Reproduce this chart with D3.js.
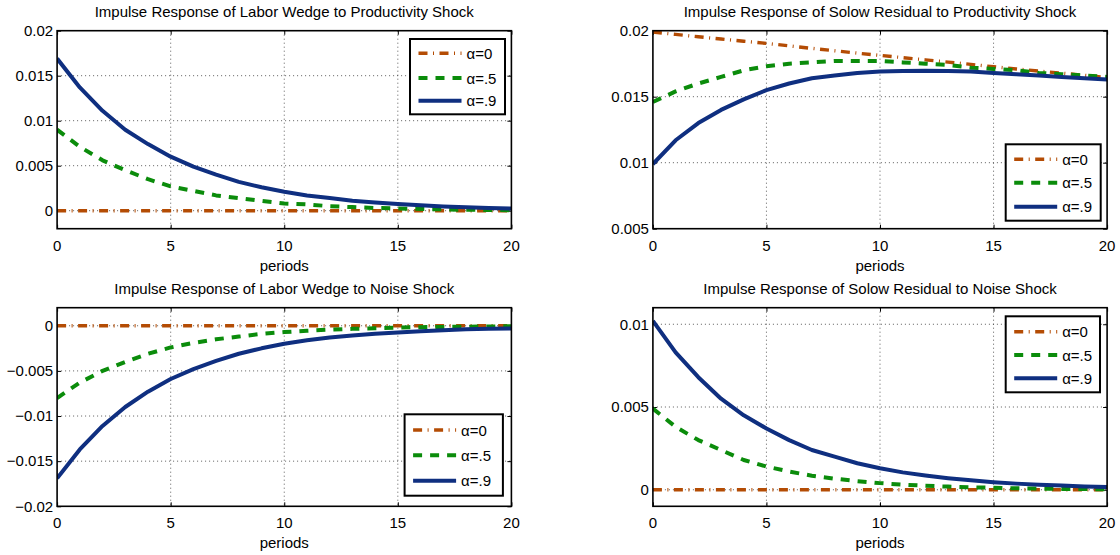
<!DOCTYPE html>
<html><head><meta charset="utf-8">
<script src="https://cdn.jsdelivr.net/npm/d3@7"></script>
<style>body{margin:0;background:#fff}svg{display:block}text{font-family:"Liberation Sans",Arial,sans-serif;fill:#000}</style>
</head><body><svg id="c" width="1120" height="555"></svg>
<script>
// ---- data ----
const periods = d3.range(0, 21);
const seriesNames = ["α=0", "α=.5", "α=.9"];
const titles = [
  "Impulse Response of Labor Wedge to Productivity Shock",
  "Impulse Response of Solow Residual to Productivity Shock",
  "Impulse Response of Labor Wedge to Noise Shock",
  "Impulse Response of Solow Residual to Noise Shock"
];
const xTicks = [0, 5, 10, 15, 20];
const yTicks1 = [0, 0.005, 0.01, 0.015, 0.02];
const yTicks2 = [0.005, 0.01, 0.015, 0.02];
const yTicks3 = [-0.02, -0.015, -0.01, -0.005, 0];
const yTicks4 = [0, 0.005, 0.01];
const yLabels1 = ["0", "0.005", "0.01", "0.015", "0.02"];
const yLabels2 = ["0.005", "0.01", "0.015", "0.02"];
const yLabels3 = ["\u22120.02", "\u22120.015", "\u22120.01", "\u22120.005", "0"];
const yLabels4 = ["0", "0.005", "0.01"];

// Panel 1: labor wedge, productivity shock
const lw_prod_a0 = [0,0,0,0,0,0,0,0,0,0,0,0,0,0,0,0,0,0,0,0,0];
const lw_prod_a5 = [0.009,0.0071,0.0056,0.0045,0.0035,0.0027,0.0022,0.0017,0.0014,0.0011,0.0008,0.0007,0.0005,0.0004,0.0003,0.00025,0.0002,0.00015,0.0001,0.00008,0.00006];
const lw_prod_a9 = [0.0169,0.0137,0.0111,0.0090,0.0074,0.0060,0.0049,0.0040,0.0032,0.0026,0.0021,0.0017,0.0014,0.0011,0.0009,0.00074,0.0006,0.00048,0.00039,0.0003,0.00024];
// Panel 2: Solow residual, productivity shock
const sr_prod_a0 = [0.0199,0.01972,0.01954,0.01937,0.0192,0.01904,0.01885,0.01866,0.01848,0.0183,0.01813,0.01796,0.01779,0.01762,0.01745,0.01727,0.0171,0.01694,0.01678,0.01662,0.01646];
const sr_prod_a5 = [0.0146,0.0154,0.0160,0.0165,0.0170,0.0173,0.0175,0.0176,0.0177,0.0177,0.0177,0.0176,0.0175,0.0174,0.0172,0.0171,0.0170,0.0168,0.0167,0.0166,0.0165];
const sr_prod_a9 = [0.0099,0.0117,0.0130,0.0140,0.0148,0.0155,0.0160,0.0164,0.0166,0.0168,0.0169,0.01695,0.01697,0.01695,0.0169,0.0168,0.0167,0.0166,0.0165,0.0164,0.0163];
// Panel 3: labor wedge, noise shock
const lw_noise_a0 = [0,0,0,0,0,0,0,0,0,0,0,0,0,0,0,0,0,0,0,0,0];
const lw_noise_a5 = [-0.008,-0.0063,-0.005,-0.004,-0.0031,-0.0024,-0.0019,-0.0015,-0.0012,-0.0009,-0.0007,-0.00055,-0.00043,-0.00034,-0.00027,-0.0002,-0.00016,-0.00013,-0.0001,-0.00008,-0.00006];
const lw_noise_a9 = [-0.0169,-0.0137,-0.0111,-0.0090,-0.0073,-0.0059,-0.0048,-0.0039,-0.0031,-0.0025,-0.0020,-0.0016,-0.0013,-0.00108,-0.00088,-0.00074,-0.0006,-0.0005,-0.0004,-0.00034,-0.0003];
// Panel 4: Solow residual, noise shock
const sr_noise_a0 = [0,0,0,0,0,0,0,0,0,0,0,0,0,0,0,0,0,0,0,0,0];
const sr_noise_a5 = [0.0049,0.0038,0.0030,0.0024,0.0018,0.0014,0.0011,0.00085,0.00067,0.00052,0.0004,0.00031,0.00024,0.00019,0.00015,0.00012,0.00009,0.00007,0.00005,0.00004,0.00003];
const sr_noise_a9 = [0.0102,0.0083,0.0068,0.0055,0.0045,0.0037,0.0030,0.0024,0.0020,0.0016,0.0013,0.00105,0.00086,0.0007,0.00057,0.00046,0.00037,0.0003,0.00025,0.0002,0.00016];

// ---- styles / layout ----
const colors = ["#b44c04", "#0b8c0b", "#0f2f80"];
const widths = [3.4, 4, 4];
const dashes = ["9,5.5,1,5.5", "9,8", null];

const panels = [
  {title: titles[0], series: [lw_prod_a0, lw_prod_a5, lw_prod_a9], yDomain: [-0.002, 0.02], yTicks: yTicks1, yLabels: yLabels1,
   box: {l: 57.1, r: 511.4, t: 30.7, b: 228.7}, leg: {x0: 410, x1: 505, y0: 39, y1: 114.3, ys: [53.3, 78, 100.7]}, titleY: 17, tickY: 250.5, perY: 270.5},
  {title: titles[1], series: [sr_prod_a0, sr_prod_a5, sr_prod_a9], yDomain: [0.005, 0.02], yTicks: yTicks2, yLabels: yLabels2,
   box: {l: 652.9, r: 1107.1, t: 30.7, b: 228.7}, leg: {x0: 1005.7, x1: 1100.7, y0: 144.3, y1: 220.7, ys: [159.3, 182.7, 206.7]}, titleY: 17, tickY: 250.5, perY: 270.5},
  {title: titles[2], series: [lw_noise_a0, lw_noise_a5, lw_noise_a9], yDomain: [-0.02, 0.002], yTicks: yTicks3, yLabels: yLabels3,
   box: {l: 57.1, r: 511.4, t: 307.7, b: 506.3}, leg: {x0: 404.6, x1: 502.9, y0: 414.3, y1: 495.7, ys: [430, 455.3, 480.7]}, titleY: 294, tickY: 527.5, perY: 547.5},
  {title: titles[3], series: [sr_noise_a0, sr_noise_a5, sr_noise_a9], yDomain: [-0.001, 0.011], yTicks: yTicks4, yLabels: yLabels4,
   box: {l: 652.9, r: 1107.1, t: 307.7, b: 506.3}, leg: {x0: 1005.7, x1: 1100, y0: 316.3, y1: 392.3, ys: [331.7, 355, 378.3]}, titleY: 294, tickY: 527.5, perY: 547.5}
];

const svg = d3.select("#c");

panels.forEach((p, pi) => {
  const g = svg.append("g");
  const B = p.box;
  const x = d3.scaleLinear().domain([0, 20]).range([B.l, B.r]);
  const y = d3.scaleLinear().domain(p.yDomain).range([B.b, B.t]);
  const clipId = "clip" + pi;
  g.append("clipPath").attr("id", clipId).append("rect")
    .attr("x", B.l).attr("y", B.t).attr("width", B.r - B.l).attr("height", B.b - B.t);

  // grid
  g.selectAll(".gx").data(xTicks.slice(1, -1)).join("line")
    .attr("x1", d => x(d)).attr("x2", d => x(d)).attr("y1", B.t).attr("y2", B.b)
    .attr("stroke", "#333").attr("stroke-width", 0.8).attr("stroke-dasharray", "1,3");
  g.selectAll(".gy").data(p.yTicks.filter(v => y(v) > B.t + 1 && y(v) < B.b - 1)).join("line")
    .attr("x1", B.l).attr("x2", B.r).attr("y1", d => y(d)).attr("y2", d => y(d))
    .attr("stroke", "#333").attr("stroke-width", 0.8).attr("stroke-dasharray", "1,3");

  // axes (ticks inside, MATLAB style)
  const ax = d3.axisBottom(x).tickValues(xTicks).tickSize(-4).tickFormat("");
  const axT = d3.axisTop(x).tickValues(xTicks).tickSize(-4).tickFormat("");
  const ay = d3.axisLeft(y).tickValues(p.yTicks).tickSize(-4).tickFormat("");
  const ayR = d3.axisRight(y).tickValues(p.yTicks).tickSize(-4).tickFormat("");
  [[ax, `translate(0,${B.b})`], [axT, `translate(0,${B.t})`], [ay, `translate(${B.l},0)`], [ayR, `translate(${B.r},0)`]].forEach(([a, t]) => {
    const ag = g.append("g").attr("transform", t).call(a);
    ag.select(".domain").remove();
    ag.selectAll("line").attr("stroke", "#000").attr("stroke-width", 1);
  });

  // tick labels
  g.selectAll(".xl").data(xTicks).join("text")
    .attr("x", d => x(d)).attr("y", p.tickY).attr("text-anchor", "middle")
    .attr("font-size", 15).text(d => d);
  g.selectAll(".yl").data(p.yTicks).join("text")
    .attr("x", B.l - 4).attr("y", d => y(d) + 5.3).attr("text-anchor", "end")
    .attr("font-size", 15).text((d, i) => p.yLabels[i]);

  // lines
  const line = d3.line().x((d, i) => x(periods[i])).y(d => y(d)).curve(d3.curveLinear);
  p.series.forEach((s, si) => {
    g.append("path").datum(s).attr("d", line)
      .attr("clip-path", `url(#${clipId})`)
      .attr("fill", "none").attr("stroke", colors[si]).attr("stroke-width", widths[si])
      .attr("stroke-dasharray", dashes[si]).attr("stroke-linejoin", "round");
  });

  // box
  g.append("rect").attr("x", B.l).attr("y", B.t).attr("width", B.r - B.l).attr("height", B.b - B.t)
    .attr("fill", "none").attr("stroke", "#000").attr("stroke-width", 1.6);

  // title & xlabel
  g.append("text").attr("x", (B.l + B.r) / 2).attr("y", p.titleY).attr("text-anchor", "middle")
    .attr("font-size", 15).text(p.title);
  g.append("text").attr("x", (B.l + B.r) / 2).attr("y", p.perY).attr("text-anchor", "middle")
    .attr("font-size", 15).text("periods");

  // legend
  const L = p.leg;
  g.append("rect").attr("x", L.x0).attr("y", L.y0).attr("width", L.x1 - L.x0).attr("height", L.y1 - L.y0)
    .attr("fill", "#fff").attr("stroke", "#000").attr("stroke-width", 2);
  seriesNames.forEach((n, si) => {
    g.append("line").attr("x1", L.x0 + 8.5).attr("x2", L.x0 + 51.5).attr("y1", L.ys[si]).attr("y2", L.ys[si])
      .attr("stroke", colors[si]).attr("stroke-width", widths[si]).attr("stroke-dasharray", dashes[si]);
    g.append("text").attr("x", L.x0 + 56.5).attr("y", L.ys[si] + 5.5).attr("font-size", 15).text(n);
  });
});
</script></body></html>
